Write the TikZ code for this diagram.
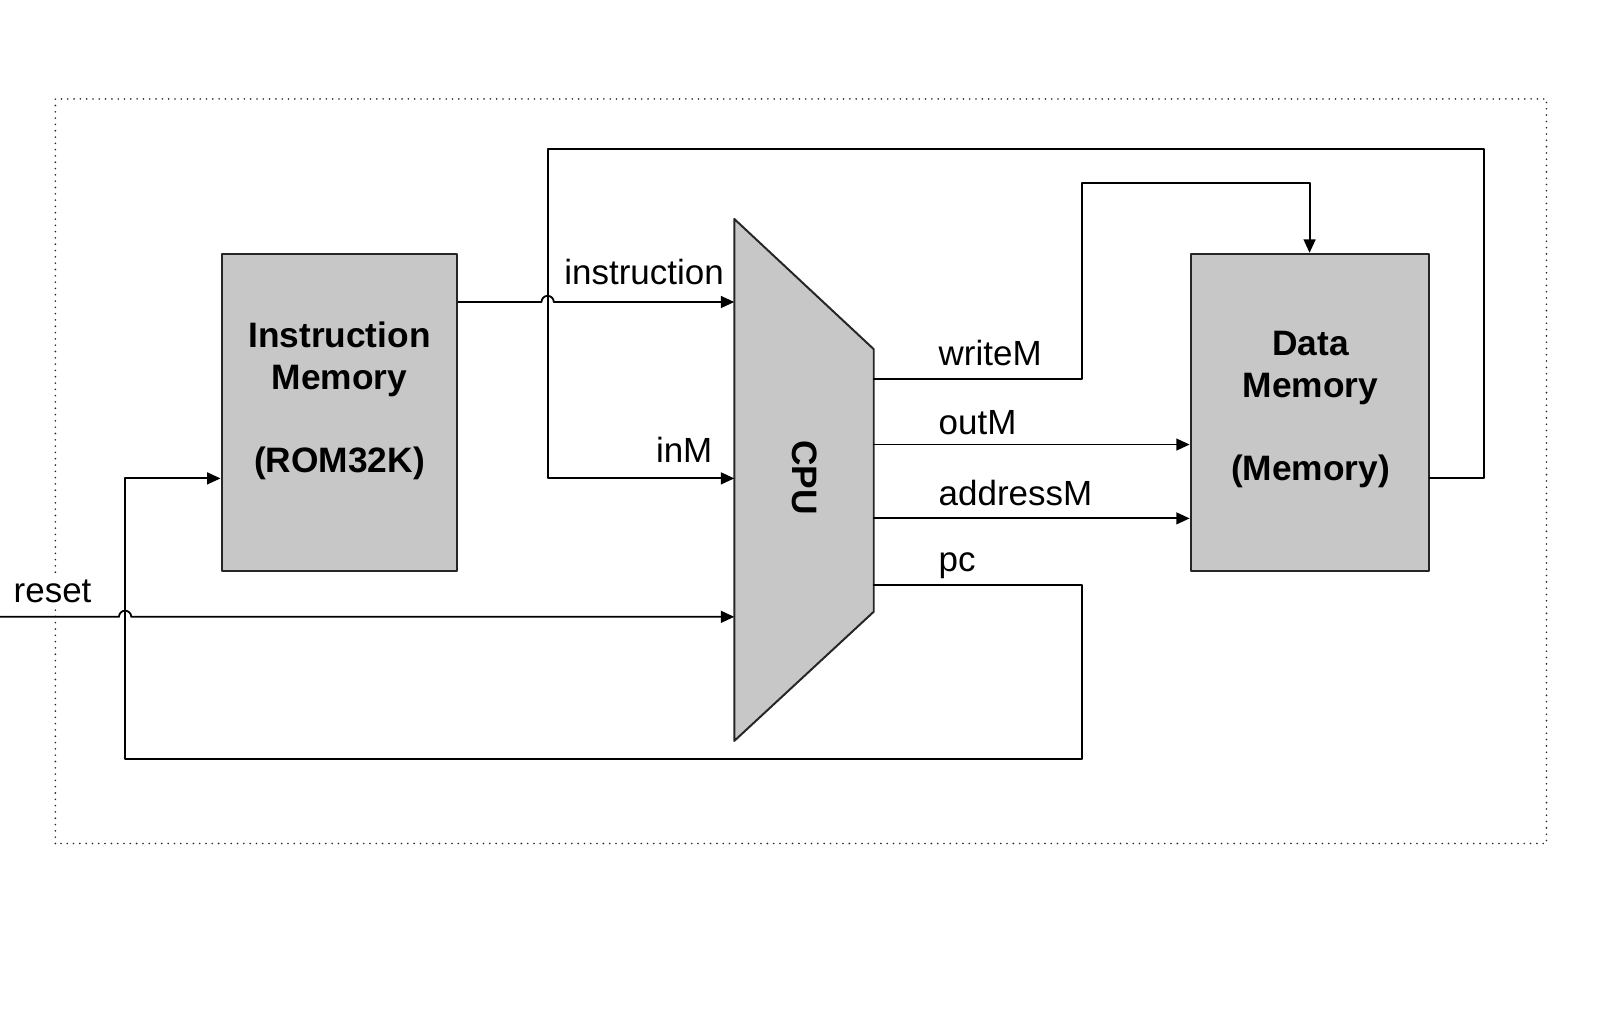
\documentclass[tikz,border=0pt]{standalone}
\usepackage{fontspec}
\setmainfont{Liberation Sans}
\usetikzlibrary{arrows.meta}

\tikzset{
  blk/.style={draw=black!85, fill=black!22, line width=1.1pt, inner sep=0pt},
  wire/.style={line width=1pt},
  lbl/.style={font=\fontsize{19.4}{23}\selectfont, inner sep=0pt},
  blktext/.style={font=\fontsize{19.6}{23}\selectfont\bfseries, align=center, inner sep=0pt},
}

\begin{document}
\begin{tikzpicture}[line cap=round,line join=round,>={Triangle[length=2.6mm,width=2.3mm]},x=1.0cm,y=1.0cm]
        \useasboundingbox (0,0) rectangle (31.36,19.89);
        \draw [black!85, line width=1pt, dash pattern=on 0pt off 3.5pt] (1.08,3.44) rectangle (30.16,17.96);
        % blocks
        \node [blk, minimum width=4.6cm, minimum height=6.18cm] (imem) at (6.62,11.85) {};
        \node [blk, minimum width=4.64cm, minimum height=6.18cm] (dmem) at (25.54,11.85) {};
        \draw [blk] (14.32,15.62) coordinate (cpuNW) -- (17.04,13.08) coordinate (cpuNE)
              -- (17.04,7.96) coordinate (cpuSE) -- (14.32,5.44) coordinate (cpuSW) -- cycle;
        \node [blktext] (imemtxt) at (6.62,12.07) {Instruction\\Memory\\[23pt](ROM32K)};
        \node [blktext] (dmemtxt) at (25.56,11.9) {Data\\Memory\\[23pt](Memory)};
        \node [blktext, rotate=-90] (cputxt) at (15.7,10.58) {CPU};
        % wire heights
        \coordinate (rowins) at (0,14.0);
        \coordinate (rowinm) at (0,10.56);
        \coordinate (rowwm) at (0,12.5);
        \coordinate (rowout) at (0,11.22);
        \coordinate (rowadr) at (0,9.78);
        \coordinate (rowpc) at (0,8.48);
        \coordinate (rstin) at (0,7.86);
        % wires
        \draw [wire,->] (imem.east |- rowins) -- (10.56,14.0) arc [start angle=180,end angle=0,radius=0.12] -- (cpuNW |- rowins);
        \draw [wire,->] (dmem.east |- rowinm) -- (28.94,10.56) -- (28.94,16.98) -- (10.68,16.98) -- (10.68,10.56) -- (cpuSW |- rowinm);
        \draw [wire,->] (cpuNE |- rowwm) -- (21.1,12.5) -- (21.1,16.32) -| (dmem.north);
        \draw [wire,->] (cpuNE |- rowout) -- (dmem.west |- rowout);
        \draw [wire,->] (cpuNE |- rowadr) -- (dmem.west |- rowadr);
        \draw [wire,->] (cpuSE |- rowpc) -- (21.1,8.48) -- (21.1,5.08) -- (2.44,5.08) -- (2.44,10.56) -- (imem.west |- rowinm);
        \draw [wire,->] (rstin) -- (2.32,7.86) arc [start angle=180,end angle=0,radius=0.12] -- (cpuSW |- rstin);
        % labels
        \node [lbl, anchor=base west] (instrlbl) at (11.0,14.34) {instruction};
        \node [lbl, anchor=base east] (inmlbl) at (13.9,10.87) {inM};
        \node [lbl, anchor=base west] (wmlbl) at (18.3,12.76) {writeM};
        \node [lbl, anchor=base west] (outlbl) at (18.3,11.41) {outM};
        \node [lbl, anchor=base west] (adrlbl) at (18.3,10.04) {addressM};
        \node [lbl, anchor=base west] (pclbl) at (18.3,8.74) {pc};
        \node [lbl, anchor=base west, fill=white, inner sep=2pt] (rstlbl) at (0.19,8.13) {reset};
    \end{tikzpicture}
\end{document}
